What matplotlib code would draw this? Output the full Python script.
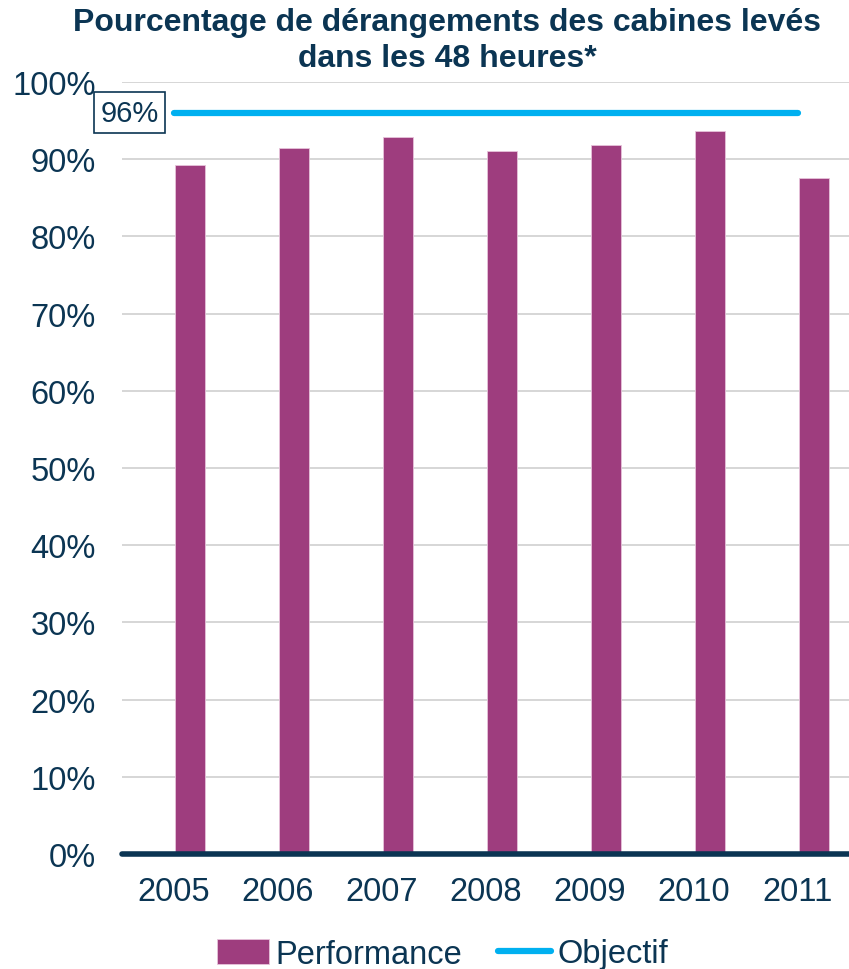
import matplotlib.pyplot as plt
import numpy as np

plt.rcParams['font.family'] = ['Liberation Sans', 'DejaVu Sans']

years = ["2005", "2006", "2007", "2008", "2009", "2010", "2011"]
performance = [89.3, 91.5, 92.9, 91.1, 91.9, 93.6, 87.6]
objectif = [96, 96, 96, 96, 96, 96, 96]

navy = "#0B3553"
purple = "#9E3D7E"
blue = "#00B0F0"

fig = plt.figure(figsize=(8.49, 9.70), dpi=100)
ax = fig.add_axes([122 / 849, 1 - 855 / 970, (849 - 122) / 849, (855 - 83) / 970])

x = np.arange(len(years))
# bars sit to the right of the category centre (as in a clustered chart)
bars = ax.bar(x + 0.15, performance, width=0.29, color=purple, edgecolor="#E6C3DA",
              linewidth=0.6, label="Performance", zorder=3)
line, = ax.plot(x, objectif, color=blue, linewidth=4.5, solid_capstyle="round",
                label="Objectif", zorder=4)
ax.annotate(f"{objectif[0]}%", xy=(x[0], objectif[0]), xytext=(-11, 0),
            textcoords="offset points", ha="right", va="center", fontsize=21, color=navy,
            bbox=dict(boxstyle="square,pad=0.22", fc="white", ec=navy, lw=1.2))

ax.set_ylim(0, 100)
ax.set_xlim(-0.5, 6.49)
ax.set_yticks(range(0, 101, 10))
ax.set_yticklabels([f"{v}%" for v in range(0, 101, 10)])
ax.set_xticks(x)
ax.set_xticklabels(years)
ax.tick_params(axis="both", length=0, labelsize=23.5, colors=navy)
ax.tick_params(axis="x", pad=16)
ax.tick_params(axis="y", pad=19)
ax.grid(axis="y", color="#D0D0D0", linewidth=1.2, zorder=0)
for s in ["top", "right", "left"]:
    ax.spines[s].set_visible(False)
ax.spines["bottom"].set_color(navy)
ax.spines["bottom"].set_linewidth(4)
ax.spines["bottom"].set_capstyle("round")
ax.spines["bottom"].set_zorder(5)

fig.text(0.527, 1 - 41 / 970, "Pourcentage de dérangements des cabines levés\ndans les 48 heures*",
         ha="center", va="center", fontsize=23, fontweight="bold", color=navy,
         linespacing=1.22)

leg = fig.legend([bars, line], ["Performance", "Objectif"], loc="center",
                 bbox_to_anchor=(0.521, 1 - 955 / 970), ncol=2, frameon=False,
                 fontsize=23.5, handlelength=1.6, handleheight=0.8, handletextpad=0.2,
                 columnspacing=1.1)
for t in leg.get_texts():
    t.set_color(navy)

fig.savefig("out.png", dpi=100)
